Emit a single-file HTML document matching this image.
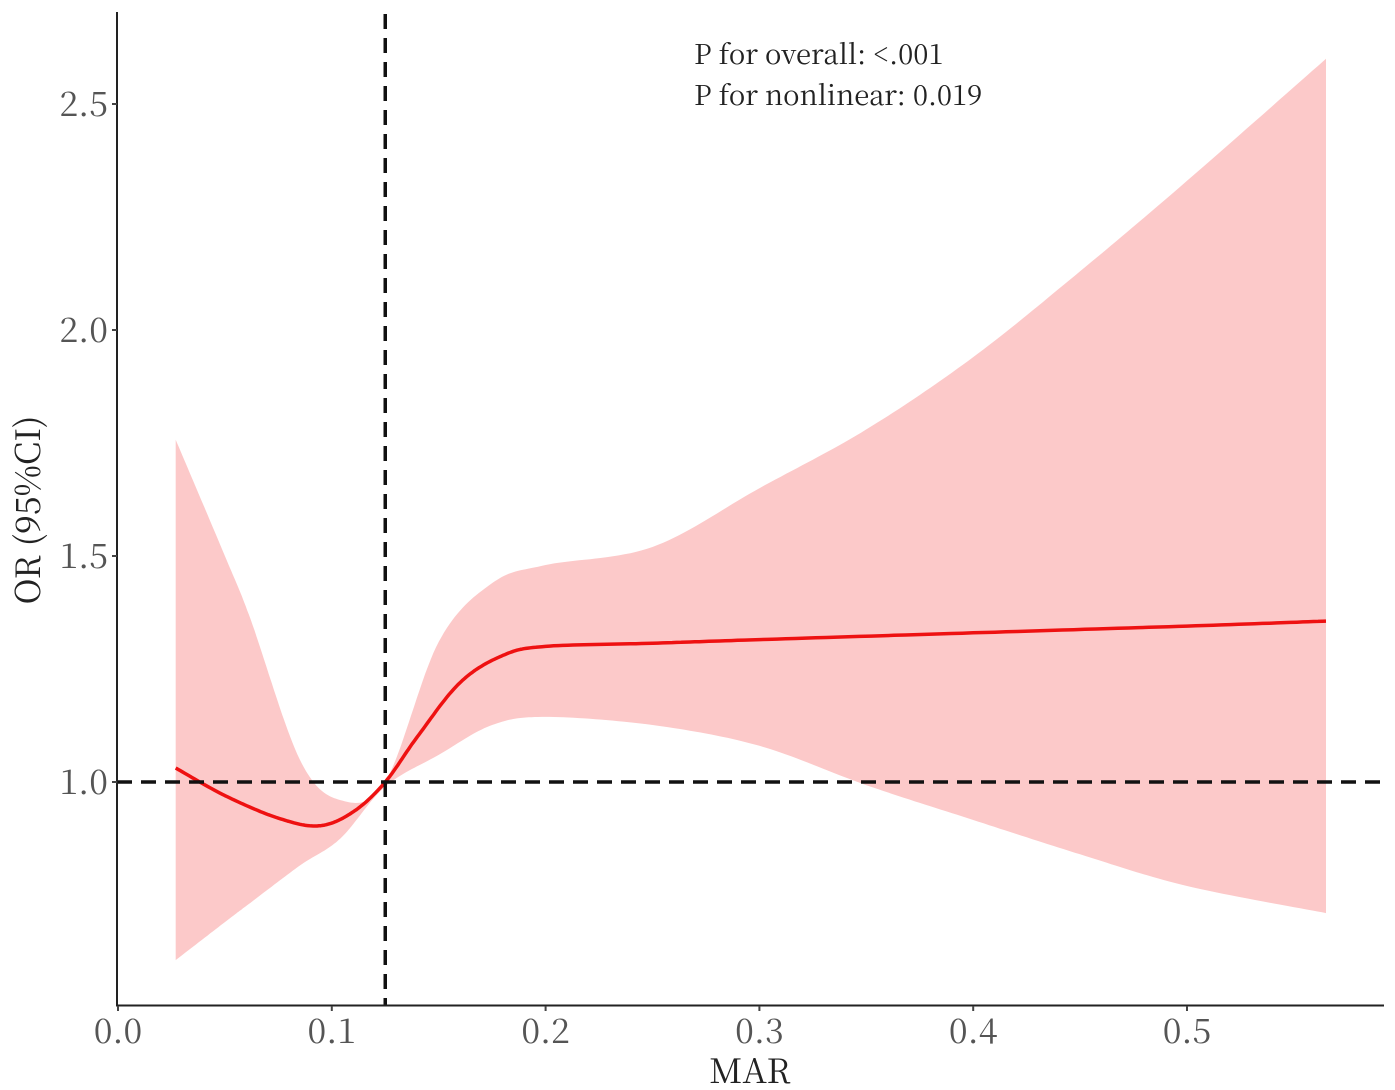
<!DOCTYPE html>
<html><head><meta charset="utf-8"><style>
html,body{margin:0;padding:0;background:#fff;}
svg{display:block;}
text{font-family:"Noto Serif CJK SC","Liberation Serif",serif;}
</style></head><body>
<svg id="chart" width="1395" height="1090" viewBox="0 0 1395 1090">
<g id="band"></g>
<g id="line"></g>
<g id="axes"></g>
<text x="694" y="64" font-size="27.5" fill="#222">P for overall: &lt;.001</text>
<text x="694" y="105" font-size="27.5" fill="#222">P for nonlinear: 0.019</text>
<text x="750" y="1083" font-size="34" text-anchor="middle" fill="#222">MAR</text>
<text transform="translate(40,510) rotate(-90)" font-size="34" text-anchor="middle" fill="#222">OR (95%CI)</text>
</svg>
<script>
const lineX=[0.027,0.05,0.075,0.094,0.11,0.125,0.14,0.16,0.18,0.2,0.25,0.3,0.4,0.5,0.565];
const lineY=[1.031,0.97,0.92,0.903,0.934,1.0,1.10,1.22,1.28,1.30,1.307,1.315,1.33,1.345,1.356];
const bandX=[0.027,0.05,0.062,0.085,0.104,0.125,0.15,0.175,0.2,0.25,0.3,0.35,0.4,0.45,0.5,0.565];
const upperY=[1.757,1.5,1.36,1.05,0.96,1.0,1.31,1.44,1.48,1.52,1.65,1.78,1.94,2.13,2.33,2.60];
const lowerY=[0.606,0.69,0.733,0.815,0.875,0.99,1.06,1.126,1.144,1.126,1.08,0.993,0.916,0.84,0.77,0.71];
const xTicks=[0,0.1,0.2,0.3,0.4,0.5];
const xTickLabels=["0.0","0.1","0.2","0.3","0.4","0.5"];
const yTicks=[1.0,1.5,2.0,2.5];
const yTickLabels=["1.0","1.5","2.0","2.5"];
const refX=0.125, refY=1.0;

const sx=v=>118+v*2138;
const sy=v=>782-(v-1)*452;
const NS="http://www.w3.org/2000/svg";
function mk(tag,attrs,parent){const e=document.createElementNS(NS,tag);for(const k in attrs)e.setAttribute(k,attrs[k]);parent.appendChild(e);return e;}
function interp(xs,ys){
  const pts=[];
  for(let i=0;i<xs.length-1;i++){
    const p0=[sx(xs[Math.max(0,i-1)]),sy(ys[Math.max(0,i-1)])],p1=[sx(xs[i]),sy(ys[i])],p2=[sx(xs[i+1]),sy(ys[i+1])],p3=[sx(xs[Math.min(xs.length-1,i+2)]),sy(ys[Math.min(xs.length-1,i+2)])];
    for(let t=0;t<1;t+=0.05){const t2=t*t,t3=t2*t;
      const f=(a,b,c,d)=>0.5*((2*b)+(-a+c)*t+(2*a-5*b+4*c-d)*t2+(-a+3*b-3*c+d)*t3);
      pts.push([f(p0[0],p1[0],p2[0],p3[0]),f(p0[1],p1[1],p2[1],p3[1])]);}
  }
  pts.push([sx(xs[xs.length-1]),sy(ys[ys.length-1])]);
  return pts;
}
const band=document.getElementById('band');
const up=interp(bandX,upperY),lo=interp(bandX,lowerY).reverse();
const poly=mk('path',{d:'M'+up.concat(lo).map(p=>p[0].toFixed(1)+','+p[1].toFixed(1)).join('L')+'Z',fill:'#fcc9c9',stroke:'none'},band);


const lg=document.getElementById('line');
const lp=interp(lineX,lineY);
const ln=mk('path',{d:'M'+lp.map(p=>p[0].toFixed(1)+','+p[1].toFixed(1)).join('L'),fill:'none',stroke:'#ee1111','stroke-width':3.5,'stroke-linejoin':'round'},lg);


const ax=document.getElementById('axes');
const h=mk('line',{x1:117,x2:1385,y1:sy(refY),y2:sy(refY),stroke:'#111','stroke-width':3.5,'stroke-dasharray':'15,9'},ax);


const v=mk('line',{x1:sx(refX),x2:sx(refX),y1:14,y2:1005,stroke:'#111','stroke-width':3.5,'stroke-dasharray':'15,9'},ax);


const xa=mk('line',{x1:116,x2:1384,y1:1005.5,y2:1005.5,stroke:'#222','stroke-width':2},ax);


const ya=mk('line',{x1:117,x2:117,y1:12,y2:1006,stroke:'#222','stroke-width':2},ax);


xTicks.forEach((t,i)=>{
  const tk=mk('line',{x1:sx(t),x2:sx(t),y1:1006,y2:1011,stroke:'#444','stroke-width':2},ax);
  
  
  const tx=mk('text',{x:sx(t),y:1043,'font-size':34,'text-anchor':'middle',fill:'#555'},ax);
  tx.textContent=xTickLabels[i];
  
  
});
yTicks.forEach((t,i)=>{
  const tk=mk('line',{x1:112,x2:117,y1:sy(t),y2:sy(t),stroke:'#444','stroke-width':2},ax);
  
  
  const tx=mk('text',{x:108,y:sy(t)+12,'font-size':34,'text-anchor':'end',fill:'#555'},ax);
  tx.textContent=yTickLabels[i];
  
  
});
</script>
</body></html>
